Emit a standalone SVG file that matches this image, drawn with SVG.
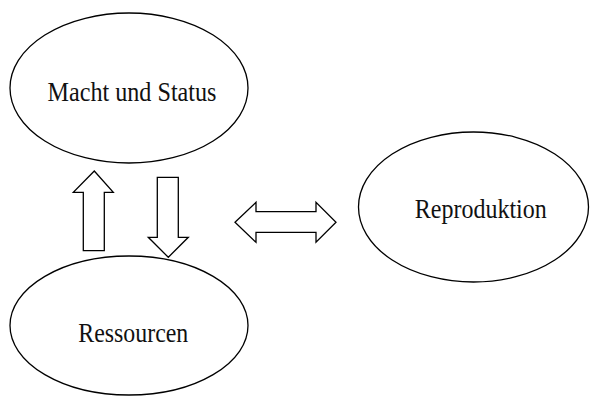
<svg xmlns="http://www.w3.org/2000/svg" width="590" height="406" viewBox="0 0 590 406">
<style>
.shape{fill:#fff;stroke:#000;stroke-width:1.3}
.lbl{font-family:"Liberation Serif","Times New Roman",serif;font-size:26.5px;fill:#111;text-anchor:middle}
</style>
<rect width="590" height="406" fill="#fff"/>
<g id="node-macht">
<ellipse class="shape" cx="129" cy="88" rx="119" ry="75"/>
<text class="lbl" x="132" y="101" textLength="169" lengthAdjust="spacingAndGlyphs">Macht und Status</text>
</g>
<g id="node-ressourcen">
<ellipse class="shape" cx="129" cy="325.5" rx="119" ry="69.5"/>
<text class="lbl" x="133.3" y="341.7" textLength="110" lengthAdjust="spacingAndGlyphs">Ressourcen</text>
</g>
<g id="node-reproduktion">
<ellipse class="shape" cx="473.5" cy="207" rx="115" ry="75"/>
<text class="lbl" x="480.8" y="217.7" textLength="132" lengthAdjust="spacingAndGlyphs">Reproduktion</text>
</g>
<g id="connectors">
<polygon class="shape" points="94.3,171 113.3,192.3 104.3,192.3 104.3,250.7 83.3,250.7 83.3,192.3 73.3,192.3"/>
<polygon class="shape" points="157.3,177.3 178.3,177.3 178.3,237.3 188.3,237.3 168.3,257.3 148.3,237.3 157.3,237.3"/>
<polygon class="shape" points="235,222.3 256,202.3 256,211.7 316,211.7 316,202.3 336,222.3 316,242.3 316,232.3 256,232.3 256,242.3"/>
</g>
</svg>
